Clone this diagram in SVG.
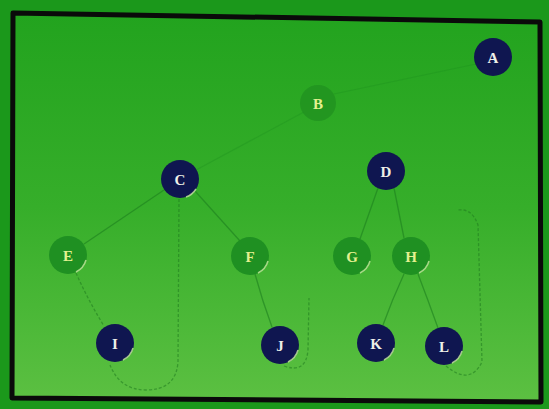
<svg xmlns="http://www.w3.org/2000/svg" width="549" height="409" viewBox="0 0 549 409">
<defs>
<linearGradient id="bg" x1="0" y1="0" x2="0" y2="1">
<stop offset="0" stop-color="#22a31e"/>
<stop offset="0.5" stop-color="#36ae2a"/>
<stop offset="1" stop-color="#5cc042"/>
</linearGradient>
<style>
.navy{fill:#0f1650;}
.grn{fill:#1f9022;}
.rim{fill:none;stroke:#c8e8a0;stroke-width:1.5;stroke-opacity:0.8;}
.lbl{font-family:"Liberation Serif",serif;font-size:15px;font-weight:bold;text-anchor:middle;dominant-baseline:central;}
.lw{fill:#eef0e8;}
.ly{fill:#e4f090;}
.edge{stroke:#1c7f1e;stroke-width:1.3;fill:none;stroke-opacity:0.6;}
.faint{stroke:#1c8a1e;stroke-width:1.2;fill:none;stroke-opacity:0.3;}
.dash{stroke:#1f7a1f;stroke-width:1.3;fill:none;stroke-dasharray:3 2;stroke-opacity:0.55;}
</style>
</defs>
<rect x="0" y="0" width="549" height="409" fill="#1b981b"/>
<polygon points="13,13 540,22 541,402 12,398" fill="url(#bg)" stroke="#0a0a0a" stroke-width="5" stroke-linejoin="round"/>
<g id="connectors">
<line class="faint" x1="304" y1="112" x2="196" y2="170"/>
<line class="faint" x1="334" y1="94" x2="476" y2="64"/>
<line class="edge" x1="164" y1="190" x2="84" y2="244"/>
<line class="edge" x1="195" y1="191" x2="240" y2="241"/>
<line class="edge" x1="378" y1="188" x2="360" y2="239"/>
<line class="edge" x1="394" y1="188" x2="404" y2="238"/>
<path class="dash" d="M76,273 Q88,300 104,326"/>
<path class="edge" d="M255,274 Q262,300 272,327"/>
<path class="edge" d="M404,274 Q392,300 383,325"/>
<path class="edge" d="M418,274 Q428,300 438,328"/>
<path class="dash" d="M179,199 L178,362 Q176,390 146,390 Q120,390 110,365"/>
<path class="dash" d="M284,366 Q306,374 308,350 L309,298"/>
<path class="dash" d="M446,366 Q470,386 482,362 L478,225 Q472,208 458,210"/>
</g>
<g id="node-A"><circle class="navy" cx="493" cy="57" r="19"/><text class="lbl lw" x="493" y="58">A</text></g>
<g id="node-B"><circle cx="318" cy="103" r="18" fill="#1f8f20" fill-opacity="0.7"/><text class="lbl ly" x="318" y="104">B</text></g>
<g id="node-C"><circle class="navy" cx="180" cy="179" r="19"/><path class="rim" d="M196,189 A19,19 0 0 1 186,197"/><text class="lbl lw" x="180" y="180">C</text></g>
<g id="node-D"><circle class="navy" cx="386" cy="171" r="19"/><text class="lbl lw" x="386" y="172">D</text></g>
<g id="node-E"><circle class="grn" cx="68" cy="255" r="19"/><path class="rim" d="M86,260 A19,19 0 0 1 76,272"/><text class="lbl ly" x="68" y="256">E</text></g>
<g id="node-F"><circle class="grn" cx="250" cy="256" r="19"/><path class="rim" d="M268,261 A19,19 0 0 1 258,273"/><text class="lbl ly" x="250" y="257">F</text></g>
<g id="node-G"><circle class="grn" cx="352" cy="256" r="19"/><path class="rim" d="M370,261 A19,19 0 0 1 360,273"/><text class="lbl ly" x="352" y="257">G</text></g>
<g id="node-H"><circle class="grn" cx="411" cy="256" r="19"/><path class="rim" d="M429,261 A19,19 0 0 1 419,273"/><text class="lbl ly" x="411" y="257">H</text></g>
<g id="node-I"><circle class="navy" cx="115" cy="343" r="19"/><path class="rim" d="M133,348 A19,19 0 0 1 123,360"/><text class="lbl lw" x="115" y="344">I</text></g>
<g id="node-J"><circle class="navy" cx="280" cy="345" r="19"/><path class="rim" d="M298,350 A19,19 0 0 1 288,362"/><text class="lbl lw" x="280" y="346">J</text></g>
<g id="node-K"><circle class="navy" cx="376" cy="343" r="19"/><path class="rim" d="M394,348 A19,19 0 0 1 384,360"/><text class="lbl lw" x="376" y="344">K</text></g>
<g id="node-L"><circle class="navy" cx="444" cy="346" r="19"/><path class="rim" d="M462,351 A19,19 0 0 1 452,363"/><text class="lbl lw" x="444" y="347">L</text></g>
</svg>
